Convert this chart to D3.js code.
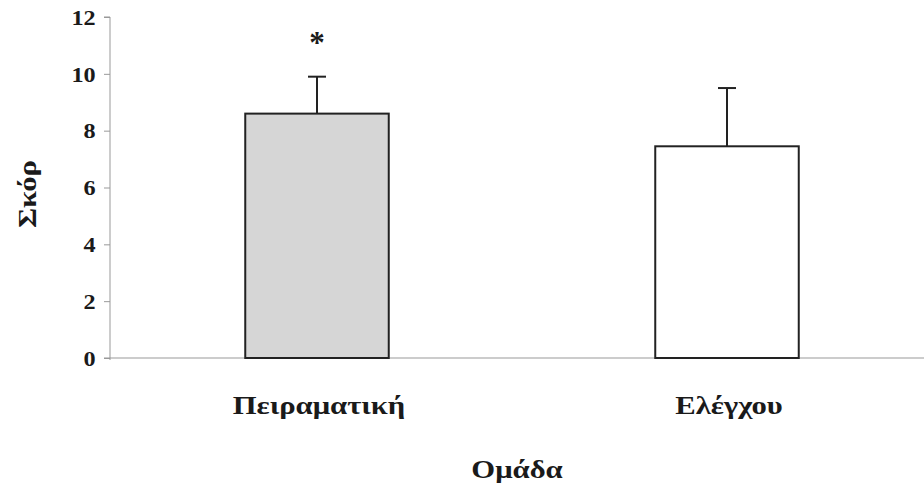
<!DOCTYPE html>
<html>
<head>
<meta charset="utf-8">
<script src="https://cdn.jsdelivr.net/npm/d3@7"></script>
<style>
  body { margin: 0; background: #fff; }
  svg text { font-family: "Liberation Serif", "DejaVu Serif", "Times New Roman", serif !important; font-weight: bold; fill: #1a1a1a; }
</style>
</head>
<body>
<div id="chart"></div>
<script>
const groups = ["Πειραματική", "Ελέγχου"];
const means = [8.6, 7.45];
const errors = [1.3, 2.05];
const marks = ["*", ""];
const yTicks = [0, 2, 4, 6, 8, 10, 12];

const width = 924, height = 496;
// the original figure is stretched sideways, so the text is too
const stretch = 1.18;

const svg = d3.select("#chart")
  .append("svg")
  .attr("width", width)
  .attr("height", height);

const x = d3.scaleBand()
  .domain(groups)
  .range([112, 932])
  .paddingInner(0.65)
  .paddingOuter(0.325);

const y = d3.scaleLinear()
  .domain([0, 12])
  .range([358, 17]);

// y axis
const yAxis = svg.append("g")
  .attr("transform", "translate(110,0)")
  .call(d3.axisLeft(y).tickValues(yTicks).tickSize(6).tickPadding(7));
yAxis.attr("font-family", null).attr("font-size", null);
yAxis.select(".domain").attr("stroke", "#999").attr("d", "M-6,17H0V360");
yAxis.selectAll(".tick line").attr("stroke", "#999");
yAxis.selectAll(".tick text")
  .attr("dy", "0.33em")
  .attr("transform", "scale(1.1,1)")
  .style("font-size", "22px");

// baseline
svg.append("line")
  .attr("x1", 104).attr("x2", width)
  .attr("y1", y(0)).attr("y2", y(0))
  .attr("stroke", "#999")
  .attr("stroke-width", 1);

// bars
svg.selectAll(".bar")
  .data(groups)
  .enter().append("rect")
  .attr("class", "bar")
  .attr("x", d => x(d))
  .attr("y", (d, i) => y(means[i]))
  .attr("width", x.bandwidth())
  .attr("height", (d, i) => y(0) - y(means[i]))
  .attr("fill", (d, i) => i === 0 ? "#d6d6d6" : "#fff")
  .attr("stroke", "#222")
  .attr("stroke-width", 2);

// error bars
const cx = d => x(d) + x.bandwidth() / 2;
svg.selectAll(".err")
  .data(groups)
  .enter().append("line")
  .attr("x1", cx).attr("x2", cx)
  .attr("y1", (d, i) => y(means[i]))
  .attr("y2", (d, i) => y(means[i] + errors[i]))
  .attr("stroke", "#222")
  .attr("stroke-width", 2);

svg.selectAll(".cap")
  .data(groups)
  .enter().append("line")
  .attr("x1", d => cx(d) - 9).attr("x2", d => cx(d) + 9)
  .attr("y1", (d, i) => y(means[i] + errors[i]))
  .attr("y2", (d, i) => y(means[i] + errors[i]))
  .attr("stroke", "#222")
  .attr("stroke-width", 2);

// significance marks
svg.selectAll(".mark")
  .data(groups)
  .enter().append("text")
  .attr("transform", d => `translate(${cx(d)},53)`)
  .attr("text-anchor", "middle")
  .style("font-size", "31px")
  .text((d, i) => marks[i]);

// category labels
svg.selectAll(".cat")
  .data(groups)
  .enter().append("text")
  .attr("transform", d => `translate(${cx(d) + 2},414) scale(${stretch},1)`)
  .attr("text-anchor", "middle")
  .style("font-size", "26px")
  .text(d => d);

// axis titles
svg.append("text")
  .attr("transform", `translate(517,478) scale(${stretch},1)`)
  .attr("text-anchor", "middle")
  .style("font-size", "26px")
  .text("Ομάδα");

svg.append("text")
  .attr("transform", `translate(36,194) rotate(-90) scale(${stretch + 0.05},1)`)
  .attr("text-anchor", "middle")
  .style("font-size", "25px")
  .text("Σκόρ");
</script>
</body>
</html>
